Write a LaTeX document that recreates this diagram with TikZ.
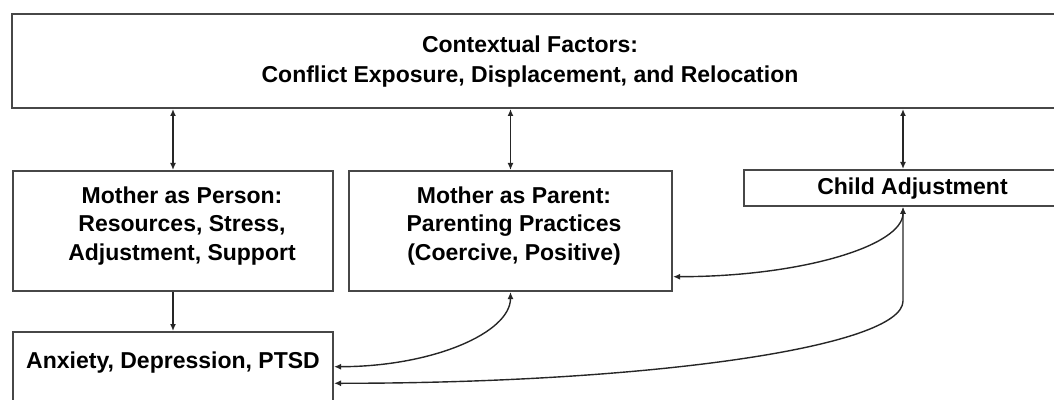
\documentclass[tikz,border=0pt]{standalone}
\usepackage{fontspec}
\setmainfont{Liberation Sans}
\usetikzlibrary{arrows.meta}

\tikzset{
  box/.style={draw=black!72, line width=2pt, inner sep=0pt},
  lbl/.style={font=\fontsize{23}{28.5}\selectfont\bfseries, align=center, inner sep=0pt},
  link/.style={draw=black!85, line width=1.4pt, -{Latex[length=7pt,width=6pt]}},
  twoway/.style={link, {Latex[length=7pt,width=6pt]}-{Latex[length=7pt,width=6pt]}},
}

\begin{document}
\begin{tikzpicture}[x=1pt, y=1pt]
    \useasboundingbox (0,0) rectangle (1054,399);

    % boxes
    \node[box, minimum width=1048pt, minimum height=94pt] (ctx) at (536,338) {};
    \node[box, minimum width=320pt, minimum height=120pt] (person) at (173,168) {};
    \node[box, minimum width=323pt, minimum height=120pt] (parent) at (510.5,168) {};
    \node[box, minimum width=337pt, minimum height=36pt] (child) at (912.5,211) {};
    \node[box, minimum width=320pt, minimum height=78pt] (anx) at (173,28) {};

    % texts
    \node[lbl, font=\fontsize{23}{30}\selectfont\bfseries] (ctxlbl) at (530,337)
        {Contextual Factors:\\Conflict Exposure, Displacement, and Relocation};
    \node[lbl] (personlbl) at (182,173.4) {Mother as Person:\\Resources, Stress,\\Adjustment, Support};
    \node[lbl] (parentlbl) at (514,173.4) {Mother as Parent:\\Parenting Practices\\(Coercive, Positive)};
    \node[lbl] (childlbl) at (912.5,210) {Child Adjustment};
    \node[lbl] (anxlbl) at (173,36.6) {Anxiety, Depression, PTSD};

    % connectors
    \coordinate (cjtop) at ([xshift=-9.5pt]child.north);
    \coordinate (cj) at ([xshift=-9.5pt]child.south);
    \draw[twoway] (ctx.south -| person.north) -- (person.north);
    \draw[twoway] (ctx.south -| parent.north) -- (parent.north);
    \draw[twoway] (ctx.south -| cjtop) -- (cjtop);
    \draw[link] (person.south) -- (anx.north);
    \draw[twoway] ([yshift=4.3pt]anx.east) .. controls +(98,0) and +(0,-41) .. (parent.south);
    \draw[twoway] (cj) .. controls +(0,-39) and +(127.5,0) .. ([yshift=-45.7pt]parent.east);
    \draw[twoway] (cj) -- ++(0,-94) .. controls +(0,-46) and +(315,0) .. ([yshift=-12.3pt]anx.east);
\end{tikzpicture}
\end{document}
